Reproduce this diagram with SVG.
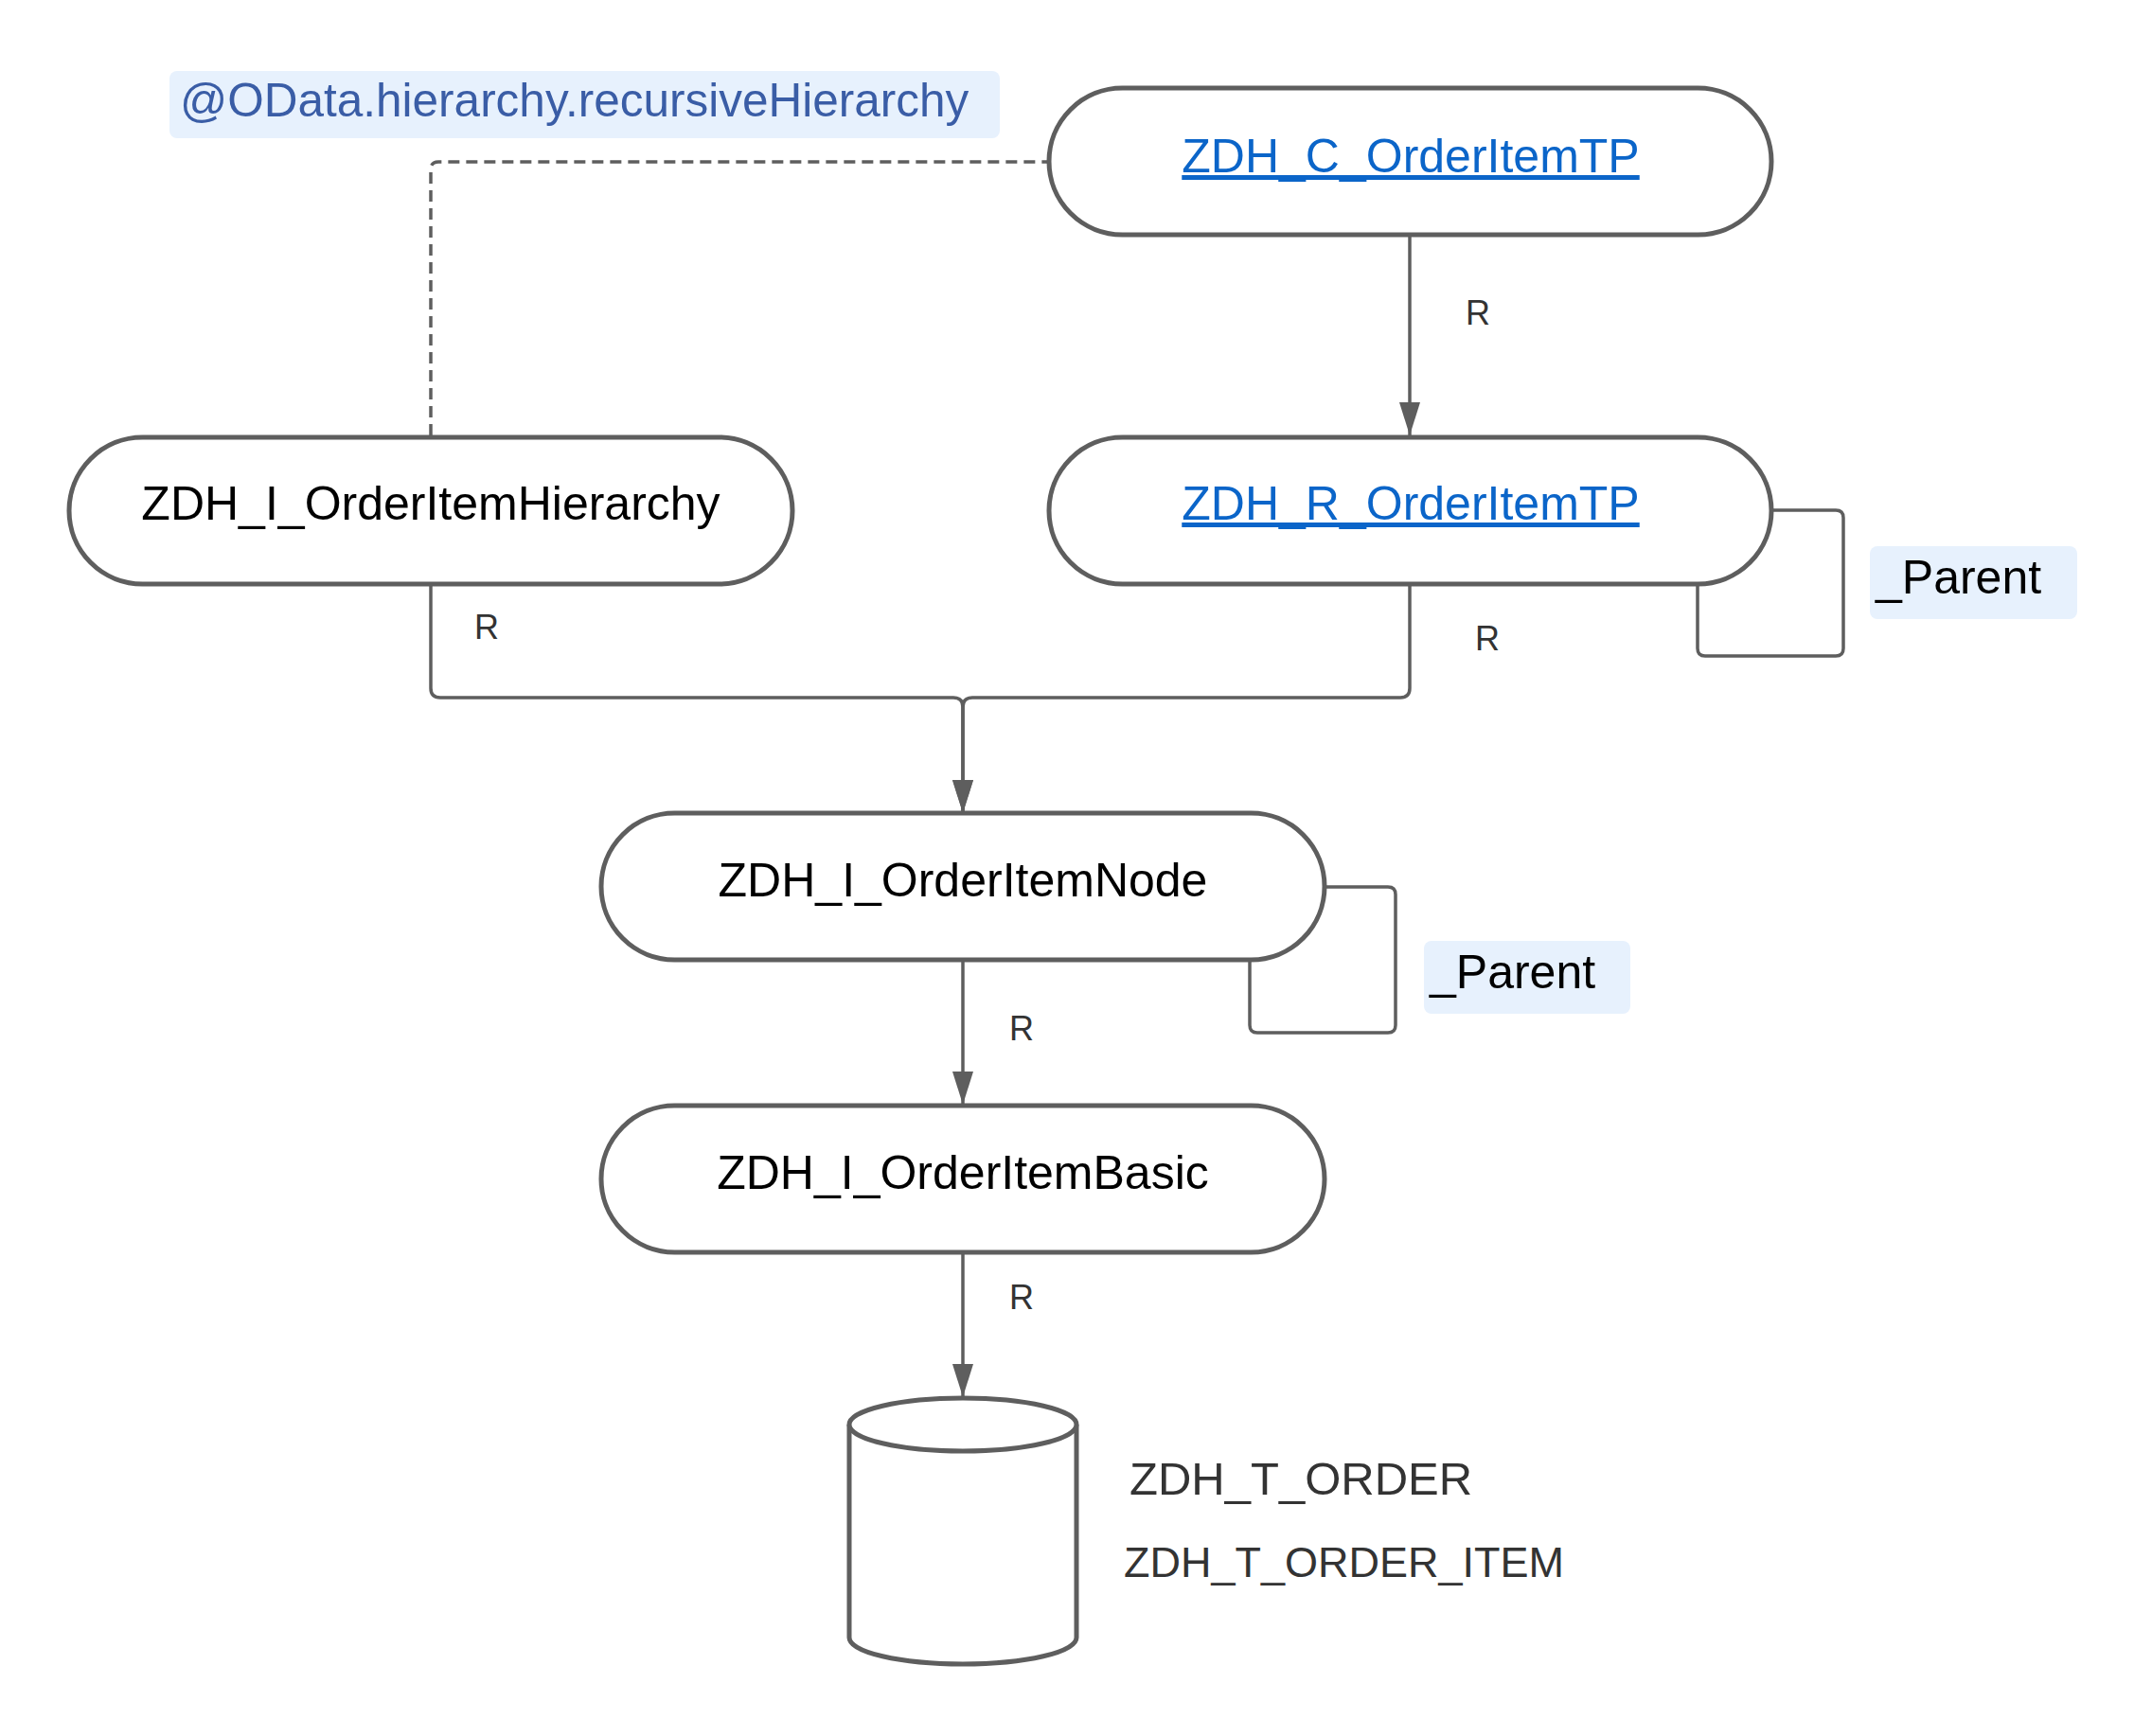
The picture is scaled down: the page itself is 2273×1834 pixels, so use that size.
<svg xmlns="http://www.w3.org/2000/svg" width="2273" height="1834" viewBox="0 0 2273 1834">
<style>
.node{fill:#ffffff;stroke:#5e5e5e;stroke-width:5}
.lbl{font-family:"Liberation Sans",Arial,sans-serif;font-size:50px;fill:#000000;text-anchor:middle}
.link{fill:#0b65c9;text-decoration:underline}
.conn{fill:none;stroke:#5e5e5e;stroke-width:3.5}
.dash{stroke-dasharray:12 7}
.rl{font-family:"Liberation Sans",Arial,sans-serif;font-size:36px;fill:#333333}
.tag{fill:#e7f1fd}
.tbl{font-family:"Liberation Sans",Arial,sans-serif;fill:#333333}
</style>
<defs>
<marker id="arr" markerWidth="35" markerHeight="22" refX="35" refY="11" viewBox="0 0 35 22" markerUnits="userSpaceOnUse" orient="auto">
<path d="M0 0 L35 11 L0 22 Z" fill="#5e5e5e"/>
</marker>
</defs>
<rect width="2273" height="1834" fill="#ffffff"/>

<g id="connectors">
<path class="conn dash" d="M455 460 V179 Q455 171 463 171 H1108"/>
<path class="conn" d="M1489 248 V460" marker-end="url(#arr)"/>
<path class="conn" d="M455 617 V727 Q455 737 465 737 H1007 Q1017 737 1017 747 V859" marker-end="url(#arr)"/>
<path class="conn" d="M1489 617 V727 Q1489 737 1479 737 H1027 Q1017 737 1017 747 V859" marker-end="url(#arr)"/>
<path class="conn" d="M1871 539 H1939 Q1947 539 1947 547 V685 Q1947 693 1939 693 H1801 Q1793 693 1793 685 V616"/>
<path class="conn" d="M1399 937 H1466 Q1474 937 1474 945 V1083 Q1474 1091 1466 1091 H1328 Q1320 1091 1320 1083 V1012"/>
<path class="conn" d="M1017 1014 V1167" marker-end="url(#arr)"/>
<path class="conn" d="M1017 1323 V1476" marker-end="url(#arr)"/>
<text class="rl" x="1548" y="343">R</text>
<text class="rl" x="501" y="675">R</text>
<text class="rl" x="1558" y="687">R</text>
<text class="rl" x="1066" y="1099">R</text>
<text class="rl" x="1066" y="1383">R</text>
<rect class="tag" x="1975" y="577" width="219" height="77" rx="8"/>
<text x="1981" y="627" font-family="Liberation Sans, Arial, sans-serif" font-size="50" fill="#000000">_Parent</text>
<rect class="tag" x="1504" y="994" width="218" height="77" rx="8"/>
<text x="1510" y="1044" font-family="Liberation Sans, Arial, sans-serif" font-size="50" fill="#000000">_Parent</text>
</g>

<g id="annotation">
<rect class="tag" x="179" y="75" width="877" height="71" rx="8"/>
<text x="190" y="123" font-family="Liberation Sans, Arial, sans-serif" font-size="49.5" fill="#3a5da6">@OData.hierarchy.recursiveHierarchy</text>
</g>

<g id="node-c">
<rect class="node" x="1108" y="93" width="763" height="155" rx="77.5"/>
<text class="lbl link" x="1490" y="182">ZDH_C_OrderItemTP</text>
</g>

<g id="node-hierarchy">
<rect class="node" x="73" y="462" width="764" height="155" rx="77.5"/>
<text class="lbl" x="455" y="549">ZDH_I_OrderItemHierarchy</text>
</g>

<g id="node-r">
<rect class="node" x="1108" y="462" width="763" height="155" rx="77.5"/>
<text class="lbl link" x="1490" y="549">ZDH_R_OrderItemTP</text>
</g>

<g id="node-node">
<rect class="node" x="635" y="859" width="764" height="155" rx="77.5"/>
<text class="lbl" x="1017" y="947">ZDH_I_OrderItemNode</text>
</g>

<g id="node-basic">
<rect class="node" x="635" y="1168" width="764" height="155" rx="77.5"/>
<text class="lbl" x="1017" y="1256">ZDH_I_OrderItemBasic</text>
</g>

<g id="node-db">
<path class="node" d="M897 1505 V1730 A120 28 0 0 0 1137 1730 V1505"/>
<ellipse class="node" cx="1017" cy="1505" rx="120" ry="28"/>
<text class="tbl" x="1193" y="1579" font-size="49">ZDH_T_ORDER</text>
<text class="tbl" x="1187" y="1666" font-size="45">ZDH_T_ORDER_ITEM</text>
</g>
</svg>
